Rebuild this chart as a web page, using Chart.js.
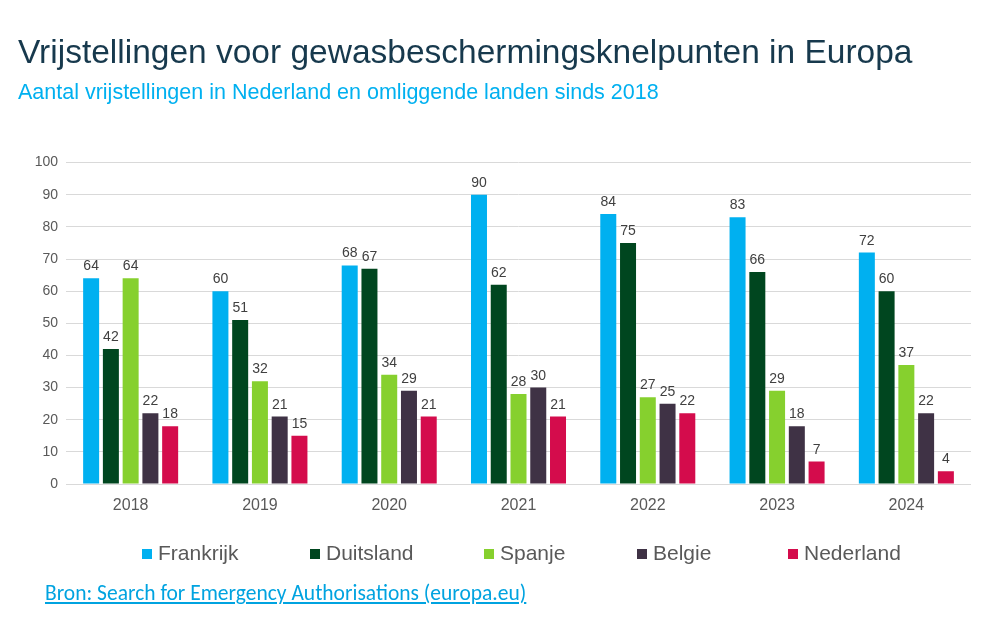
<!DOCTYPE html>
<html>
<head>
<meta charset="utf-8">
<script src="https://cdn.jsdelivr.net/npm/chart.js@4"></script>
<style>
    html, body { margin: 0; padding: 0; background: #fff; }
    .wrap { position: relative; width: 984px; height: 619px; }
    #chart { position: absolute; left: 0; top: 0; }
    .legend-item {
        position: absolute; top: 541px; height: 24px; line-height: 24px;
        font-family: 'Liberation Sans', Arial, sans-serif; font-size: 21px; color: #595959;
        white-space: nowrap;
    }
    .legend-item span {
        display: inline-block; width: 10px; height: 10px; margin-right: 6px;
        vertical-align: 1px;
    }
    .bron {
        position: absolute; left: 45px; top: 580px;
        font-family: Carlito, 'Liberation Sans Narrow', 'Open Sans', sans-serif;
        font-size: 21.5px; color: #00A3E0; text-decoration: underline;
    }
</style>
</head>
<body>
<div class="wrap">
    <canvas id="chart" width="984" height="619"></canvas>
    <div id="legend"></div>
    <div class="bron">Bron: Search for Emergency Authorisations (europa.eu)</div>
</div>
<script>
// Data
const years = ['2018', '2019', '2020', '2021', '2022', '2023', '2024'];
const frankrijk = [64, 60, 68, 90, 84, 83, 72];
const duitsland = [42, 51, 67, 62, 75, 66, 60];
const spanje = [64, 32, 34, 28, 27, 29, 37];
const belgie = [22, 21, 29, 30, 25, 18, 22];
const nederland = [18, 15, 21, 21, 22, 7, 4];
const yTicks = [0, 10, 20, 30, 40, 50, 60, 70, 80, 90, 100];

const FONT = "'Liberation Sans', Arial, sans-serif";

// value labels above the bars
const valueLabels = {
    id: 'valueLabels',
    afterDatasetsDraw(chart) {
        const ctx = chart.ctx;
        ctx.save();
        ctx.font = '14px ' + FONT;
        ctx.fillStyle = '#404040';
        ctx.textAlign = 'center';
        ctx.textBaseline = 'alphabetic';
        chart.data.datasets.forEach((ds, i) => {
            chart.getDatasetMeta(i).data.forEach((bar, j) => {
                ctx.fillText(ds.data[j], bar.x, bar.y - 8);
            });
        });
        ctx.restore();
    }
};

function bars(label, data, color) {
    return {
        label,
        data,
        backgroundColor: color,
        categoryPercentage: 0.764,
        barPercentage: 0.81
    };
}

const chart = new Chart(document.getElementById('chart'), {
    type: 'bar',
    data: {
        labels: years,
        datasets: [
            bars('Frankrijk', frankrijk, '#00B0F0'),
            bars('Duitsland', duitsland, '#00461F'),
            bars('Spanje', spanje, '#86D02E'),
            bars('Belgie', belgie, '#3F3245'),
            bars('Nederland', nederland, '#D40C4C')
        ]
    },
    options: {
        responsive: false,
        animation: false,
        layout: { padding: { left: 18, right: 13, top: 34, bottom: 91.8 } },
        plugins: {
            title: {
                display: true,
                text: 'Vrijstellingen voor gewasbeschermingsknelpunten in Europa',
                align: 'start',
                color: '#17394D',
                font: { family: FONT, size: 33.5, weight: 'normal' },
                padding: { top: 0, bottom: 6 }
            },
            subtitle: {
                display: true,
                text: 'Aantal vrijstellingen in Nederland en omliggende landen sinds 2018',
                align: 'start',
                color: '#00B0F0',
                font: { family: FONT, size: 21.5 },
                padding: { top: 0, bottom: 56.6 }
            },
            legend: { display: false },
            tooltip: { enabled: false }
        },
        scales: {
            x: {
                grid: { display: false, drawTicks: false },
                border: { display: false },
                ticks: { color: '#595959', font: { family: FONT, size: 16 }, padding: 12 }
            },
            y: {
                min: 0,
                max: 100,
                afterFit(axis) { axis.width = 48; },
                afterBuildTicks(axis) { axis.ticks = yTicks.map(v => ({ value: v })); },
                grid: { color: '#D9D9D9', drawTicks: false },
                border: { display: false },
                ticks: { color: '#595959', font: { family: FONT, size: 14 }, padding: 8 }
            }
        }
    },
    plugins: [valueLabels]
});

// legend below the chart, built from the datasets
const legendX = [142, 310, 484, 637, 788];
document.getElementById('legend').innerHTML = chart.data.datasets.map((ds, i) =>
    `<div class="legend-item" style="left:${legendX[i]}px"><span style="background:${ds.backgroundColor}"></span>${ds.label}</div>`
).join('');
</script>
</body>
</html>
